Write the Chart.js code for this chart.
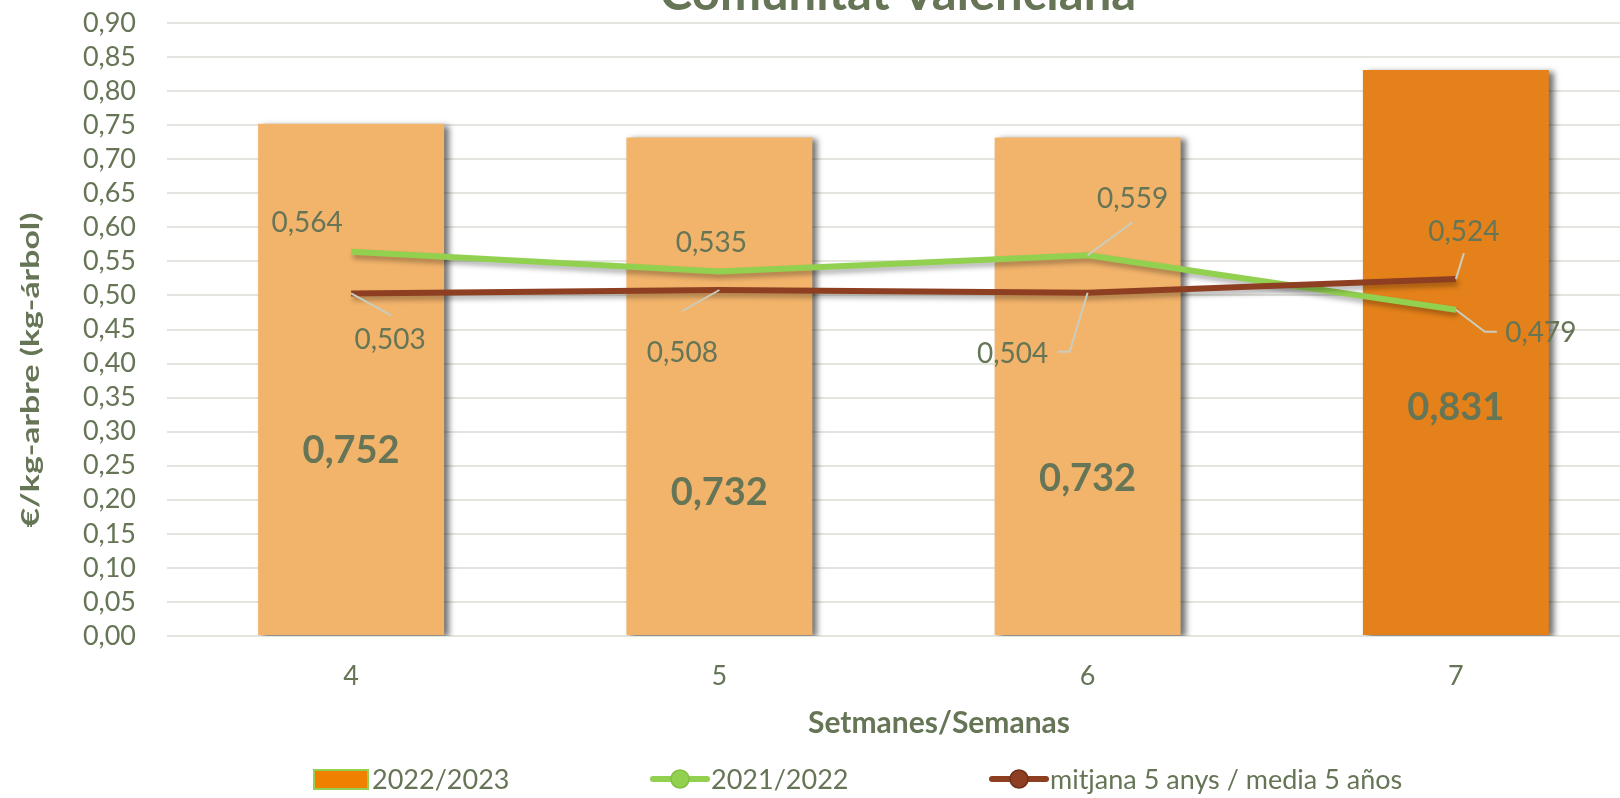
<!DOCTYPE html>
<html>
<head>
<meta charset="utf-8">
<script src="https://cdn.jsdelivr.net/npm/chart.js@4.4.0/dist/chart.umd.min.js"></script>
<style>
  html, body { margin: 0; padding: 0; background: #fff; overflow: hidden; }
  #wrap { width: 1620px; height: 798px; overflow: hidden; }
  canvas { display: block; }
</style>
</head>
<body>
<div id="wrap"><canvas id="chart" width="1650" height="798"></canvas></div>
<script>
// data
const weeks = ['4', '5', '6', '7'];
const season2223 = [0.752, 0.732, 0.732, 0.831];
const season2122 = [0.564, 0.535, 0.559, 0.479];
const average5 = [0.503, 0.508, 0.504, 0.524];
const seriesNames = ['2022/2023', '2021/2022', 'mitjana 5 anys / media 5 años'];
const yTicks = [0, 0.9, 0.05]; // min, max, step

const textColor = '#657556';
const fmt = (v, d) => v.toFixed(d).replace('.', ',');

// Excel-like soft shadow under bars and lines
const shadowPlugin = {
    id: 'shadows',
    beforeDatasetDraw(chart, args) {
        const ctx = chart.ctx;
        ctx.save();
        if (args.meta.type === 'bar') {
            ctx.shadowColor = 'rgba(0,0,0,0.55)';
            ctx.shadowBlur = 6;
            ctx.shadowOffsetX = 5;
            ctx.shadowOffsetY = 2;
        } else {
            ctx.shadowColor = 'rgba(0,0,0,0.3)';
            ctx.shadowBlur = 5;
            ctx.shadowOffsetX = 2;
            ctx.shadowOffsetY = 4;
        }
    },
    afterDatasetDraw(chart) {
        chart.ctx.restore();
    }
};

// value labels (placed by hand in the original, so offsets from each point)
const valueLabels = {
    id: 'valueLabels',
    afterDatasetsDraw(chart) {
        const ctx = chart.ctx;
        ctx.save();
        ctx.textAlign = 'center';
        ctx.textBaseline = 'middle';
        ctx.fillStyle = textColor;

        // bars
        const barDy = [327, 355, 341, 338];
        ctx.font = 'bold 38px Lato';
        chart.getDatasetMeta(0).data.forEach((el, i) => {
            ctx.fillText(fmt(season2223[i], 3), el.x, el.y + barDy[i]);
        });

        // lines
        const lineCfg = [
            {
                idx: 1, values: season2122,
                pos: [[-44, -29], [-8, -29], [45, -56], [85, 23]],
                leaders: [null, null, [[0, 0], [45, -33]], [[0, 0], [29, 22], [41, 22]]]
            },
            {
                idx: 2, values: average5,
                pos: [[39, 47], [-37, 63], [-75, 61], [8, -47]],
                leaders: [[[0, 0], [40, 22]], [[0, 0], [-37, 21]], [[0, 0], [-18, 59], [-30, 59]], [[0, 0], [8, -26]]]
            }
        ];
        ctx.font = '28px Lato';
        lineCfg.forEach(cfg => {
            chart.getDatasetMeta(cfg.idx).data.forEach((pt, i) => {
                const lead = cfg.leaders[i];
                if (lead) {
                    ctx.strokeStyle = '#c9cdbf';
                    ctx.lineWidth = 2;
                    ctx.beginPath();
                    lead.forEach(([dx, dy], k) => {
                        if (k === 0) ctx.moveTo(pt.x + dx, pt.y + dy);
                        else ctx.lineTo(pt.x + dx, pt.y + dy);
                    });
                    ctx.stroke();
                }
                ctx.fillText(fmt(cfg.values[i], 3), pt.x + cfg.pos[i][0], pt.y + cfg.pos[i][1]);
            });
        });
        ctx.restore();
    }
};

// titles and legend
const extras = {
    id: 'extras',
    afterDraw(chart) {
        const ctx = chart.ctx;
        ctx.save();
        ctx.fillStyle = textColor;

        // chart title (cut off at the top in the original)
        ctx.font = 'bold 49px Lato';
        ctx.textAlign = 'center';
        ctx.textBaseline = 'alphabetic';
        ctx.fillText('Comunitat Valenciana', 898, 10);

        // x axis title
        ctx.font = 'bold 30px Lato';
        ctx.textBaseline = 'middle';
        ctx.fillText('Setmanes/Semanas', 939, 723);

        // y axis title, stretched along its length like the source
        const yTitle = '€/kg-arbre (kg-árbol)';
        ctx.font = 'bold 25px Lato';
        const w = ctx.measureText(yTitle).width;
        ctx.translate(31, 370);
        ctx.rotate(-Math.PI / 2);
        ctx.scale(315 / w, 1);
        ctx.fillText(yTitle, 0, 0);
        ctx.setTransform(1, 0, 0, 1, 0, 0);

        // legend
        const ly = 779;
        ctx.font = '27px Lato';
        ctx.textAlign = 'left';
        ctx.textBaseline = 'middle';

        ctx.fillStyle = '#F08000';
        ctx.fillRect(314, ly - 9, 54, 19);
        ctx.strokeStyle = '#92D050';
        ctx.lineWidth = 2;
        ctx.strokeRect(314, ly - 9, 54, 19);
        ctx.fillStyle = textColor;
        ctx.fillText(seriesNames[0], 372, ly + 1);

        const lineItem = (x0, color, edge, label) => {
            ctx.strokeStyle = color;
            ctx.lineWidth = 6;
            ctx.lineCap = 'round';
            ctx.beginPath();
            ctx.moveTo(x0, ly);
            ctx.lineTo(x0 + 54, ly);
            ctx.stroke();
            ctx.beginPath();
            ctx.arc(x0 + 27, ly, 9, 0, Math.PI * 2);
            ctx.fillStyle = color;
            ctx.fill();
            ctx.strokeStyle = edge;
            ctx.lineWidth = 1.5;
            ctx.stroke();
            ctx.fillStyle = textColor;
            ctx.fillText(label, x0 + 58, ly + 1);
        };
        lineItem(653, '#92D050', '#84c044', seriesNames[1]);
        lineItem(992, '#8E3F22', '#6f2f18', seriesNames[2]);

        ctx.restore();
    }
};

Chart.defaults.font.family = 'Lato';
Chart.defaults.color = textColor;

const ctx = document.getElementById('chart').getContext('2d');
new Chart(ctx, {
    type: 'bar',
    data: {
        labels: weeks,
        datasets: [
            {
                type: 'bar',
                label: seriesNames[0],
                data: season2223,
                backgroundColor: ['#F2B36B', '#F2B36B', '#F2B36B', '#E4811A'],
                borderWidth: 0,
                barPercentage: 0.505,
                categoryPercentage: 1,
                order: 3
            },
            {
                type: 'line',
                label: seriesNames[1],
                data: season2122,
                borderColor: '#92D050',
                borderWidth: 6,
                pointRadius: 0,
                tension: 0,
                order: 2
            },
            {
                type: 'line',
                label: seriesNames[2],
                data: average5,
                borderColor: '#8E3F22',
                borderWidth: 6,
                pointRadius: 0,
                tension: 0,
                order: 1
            }
        ]
    },
    options: {
        responsive: false,
        animation: false,
        layout: {
            padding: { top: 23, right: 10, left: 0, bottom: 0 }
        },
        scales: {
            x: {
                grid: { display: false, drawTicks: false },
                border: { display: false },
                ticks: { font: { size: 27 }, color: textColor, padding: 24 },
                afterFit(scale) { scale.height = 162; }
            },
            y: {
                min: yTicks[0],
                max: yTicks[1],
                // invisible tick marks give the gap between labels and plot
                grid: { color: '#E5E5DF', lineWidth: 2, drawTicks: true, tickLength: 31, tickColor: 'rgba(0,0,0,0)' },
                border: { display: false },
                ticks: {
                    stepSize: yTicks[2],
                    autoSkip: false,
                    font: { size: 27 },
                    color: textColor,
                    padding: 0,
                    callback: v => fmt(v, 2)
                },
                afterFit(scale) { scale.width = 167; }
            }
        },
        plugins: {
            legend: { display: false },
            tooltip: { enabled: false }
        }
    },
    plugins: [shadowPlugin, valueLabels, extras]
});
</script>
</body>
</html>
